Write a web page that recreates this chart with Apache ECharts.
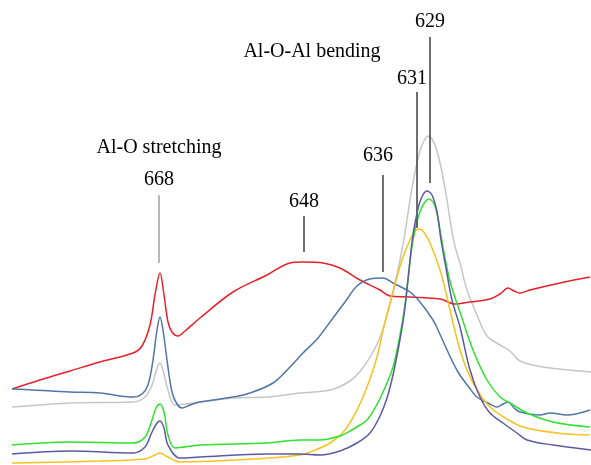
<!DOCTYPE html>
<html>
<head>
<meta charset="utf-8">
<script src="https://cdn.jsdelivr.net/npm/echarts@6/dist/echarts.min.js"></script>
<style>html,body{margin:0;padding:0;background:#fff;}#c{width:591px;height:465px;}</style>
</head>
<body>
<div id="c"></div>
<script>
// Spectra: [position, signal] (signal axis drawn top-down)
var red = [[12,389],[40,380],[70,371],[100,362],[133,353],[142,346],[150,325],[155,295],[160,273],[164,295],[168,322],[172,332],[178,336],[185,331],[200,318],[233,292],[267,275],[290,263],[303,262],[323,263],[340,268],[360,280],[380,290],[390,296],[410,297],[440,299],[455,304],[470,302],[490,299],[500,294],[508,288],[514,291],[520,293],[530,290],[560,283],[590,277]];
var steel = [[12,389],[33,390],[70,392],[100,393],[133,397],[142,394],[148,385],[153,360],[157,330],[160,317],[163,330],[167,360],[172,392],[177,404],[182,408],[190,405],[200,402],[233,397],[250,393],[273,383],[290,367],[302,354],[318,338],[333,318],[345,302],[357,286],[370,279],[383,278],[393,283],[410,292],[420,302],[433,320],[438,330],[448,352],[458,372],[468,386],[477,397],[490,404],[497,407],[503,404],[508,402],[514,408],[520,412],[540,415],[550,413],[567,415],[590,410]];
var gray = [[12,407],[40,405],[70,403],[133,402],[145,397],[152,385],[157,368],[160,363],[163,370],[168,390],[175,405],[185,404],[200,402],[233,398],[267,397],[300,393],[330,390],[350,381],[362,369],[373,352],[381,335],[388,312],[394,288],[400,260],[405,233],[410,200],[415,172],[420,151],[424,141],[428,136],[432,139],[437,151],[442,172],[447,200],[452,232],[456,250],[460,263],[467,290],[477,315],[487,336],[500,345],[510,351],[520,361],[543,367],[591,372]];
var green = [[12,445],[70,442],[133,443],[145,437],[152,420],[156,408],[160,404],[164,412],[168,435],[175,448],[200,445],[267,443],[300,440],[320,440],[340,436],[350,431],[360,425],[367,420],[375,408],[383,392],[393,367],[400,335],[405,305],[409,270],[413,240],[418,218],[423,205],[429,199],[435,206],[440,230],[445,258],[451,285],[460,312],[473,350],[487,380],[500,397],[510,403],[527,413],[553,422],[590,427]];
var purple = [[12,454],[70,451],[133,453],[145,447],[152,432],[157,423],[160,421],[164,428],[168,445],[180,458],[200,457],[267,454],[300,454],[320,455],[340,451],[357,443],[370,433],[380,416],[387,398],[393,375],[399,345],[404,315],[408,280],[412,242],[416,218],[421,199],[427,191],[432,195],[437,212],[441,240],[446,268],[452,300],[460,327],[470,370],[480,397],[490,413],[503,423],[517,433],[527,440],[553,445],[591,450]];
var yellow = [[12,463],[100,461],[145,459],[155,455],[160,453],[166,456],[180,462],[270,458],[300,455],[310,452],[330,443],[345,430],[357,410],[367,387],[377,357],[383,330],[390,303],[397,277],[403,257],[410,240],[415,231],[420,229],[425,234],[430,243],[440,270],[447,297],[453,323],[460,350],[467,370],[477,390],[490,407],[507,419],[523,427],[557,433],[590,435]];

// Annotations: [position, height, label]
var peakLabels = [[159,180,'668'],[304,202,'648'],[378,156,'636'],[412,79,'631'],[430,22,'629']];
var bandLabels = [[159,148,'Al-O stretching'],[312,52,'Al-O-Al bending']];
// Marker lines: [position, from, to, colour]
var markers = [[159,195,263,'#a8a8a8'],[304,216,252,'#4a4a4a'],[383,175,272,'#4a4a4a'],[417,92,228,'#4a4a4a'],[429.5,37,183,'#4a4a4a']];

var chart = echarts.init(document.getElementById('c'));
function spec(data, color, z) {
  return {type:'line', data:data, smooth:0.35, symbol:'none', z:z||2,
    lineStyle:{color:color, width:1.5}, silent:true};
}
var series = [
  spec(gray,'#c6c6c6',2),
  spec(red,'#e5222b',3),
  spec(steel,'#5275a8',3),
  spec(yellow,'#f6c21d',3),
  spec(green,'#2fe22f',4),
  spec(purple,'#5b5aa2',5),
  {type:'line', data:[], symbol:'none',
    markLine:{silent:true, symbol:'none', label:{show:false},
      data: markers.map(function(m){return [{coord:[m[0],m[1]], lineStyle:{color:m[3], width:1.6, type:'solid'}},{coord:[m[0],m[2]]}];})}},
  {type:'scatter', symbolSize:0, silent:true, z:10,
    itemStyle:{opacity:1},
    data: peakLabels.concat(bandLabels),
    label:{show:true, position:'inside', opacity:1, formatter:function(p){return p.data[2];},
      color:'#000', textBorderWidth:0, fontFamily:'Liberation Serif, Times New Roman, serif', fontSize:20}}
];
chart.setOption({
  animation:false,
  backgroundColor:'#fff',
  grid:{left:0,right:0,top:0,bottom:0},
  xAxis:{type:'value', min:0, max:591, show:false},
  yAxis:{type:'value', min:0, max:465, inverse:true, show:false},
  series:series
});
</script>
</body>
</html>
